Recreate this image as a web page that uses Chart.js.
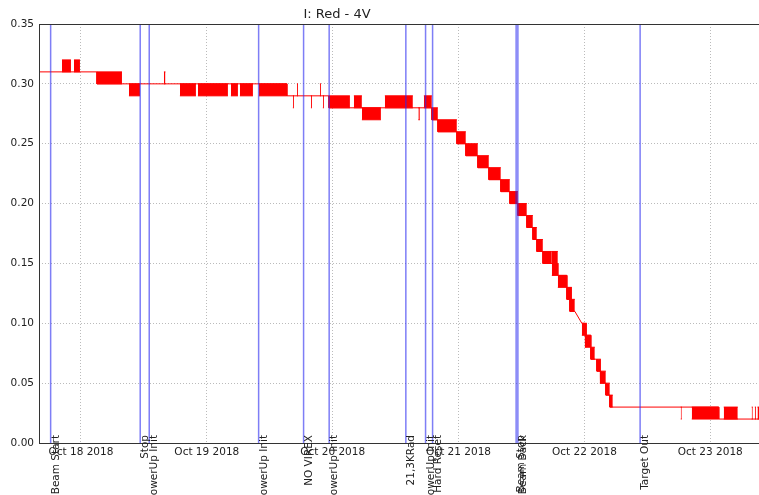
<!DOCTYPE html>
<html><head><meta charset="utf-8">
<script src="https://cdn.jsdelivr.net/npm/chart.js@4.4.0/dist/chart.umd.min.js"></script>
<style>
html,body{margin:0;padding:0;overflow:hidden;background:#fff;width:759px;height:495px}
#wrap{width:800px;height:495px;position:relative}
</style></head><body>
<div id="wrap"><canvas id="c" width="800" height="495"></canvas></div>
<script>
// ---- data (x in hours since Oct 18 2018 00:00) ----
const chartTitle = "I: Red - 4V";
const xMin = -8.0, xMax = 135.2;
const tickHours = [0, 24, 48, 72, 96, 120];
const tickLabels = ["Oct 18 2018", "Oct 19 2018", "Oct 20 2018", "Oct 21 2018", "Oct 22 2018", "Oct 23 2018"];
const yTicks = [0, 0.05, 0.10, 0.15, 0.20, 0.25, 0.30, 0.35];

// main (thin) current trace vertices
const baseHours  = [-8.0, 3.05, 3.05, 39.27, 39.27, 47.28, 47.28, 66.91, 66.91, 68.06, 68.06, 71.68, 71.68, 73.39, 73.39, 75.68, 75.68, 77.78, 77.78, 80.06, 80.06, 81.78, 81.78, 83.31, 83.31, 85.02, 85.02, 86.17, 86.17, 86.93, 86.93, 88.08, 88.08, 90.93, 90.93, 92.65, 92.65, 93.22, 93.22, 94.17, 95.51, 96.08, 96.08, 97.22, 97.22, 98.37, 98.37, 99.13, 99.13, 100.08, 100.08, 100.84, 100.84, 101.41, 101.41, 121.62, 121.62, 135.2];
const baseValues = [0.31, 0.31, 0.30, 0.30, 0.29, 0.29, 0.28, 0.28, 0.27, 0.27, 0.26, 0.26, 0.25, 0.25, 0.24, 0.24, 0.23, 0.23, 0.22, 0.22, 0.21, 0.21, 0.20, 0.20, 0.19, 0.19, 0.18, 0.18, 0.17, 0.17, 0.16, 0.16, 0.15, 0.15, 0.14, 0.14, 0.12, 0.12, 0.11, 0.11, 0.10, 0.10, 0.09, 0.09, 0.07, 0.07, 0.06, 0.06, 0.05, 0.05, 0.04, 0.04, 0.03, 0.03, 0.03, 0.03, 0.02, 0.02];

// flicker bands (signal toggling between two adjacent levels)
const bandStart = [-3.62, -1.33, 3.05, 9.15, 15.82, 18.87, 22.30, 28.59, 30.31, 33.93, 40.41, 41.18, 43.85, 45.56, 46.13, 47.28, 52.04, 53.57, 57.95, 64.34, 65.39, 66.91, 68.06, 71.68, 73.39, 75.68, 77.78, 80.06, 81.78, 83.31, 85.02, 86.17, 86.93, 88.08, 89.79, 90.93, 92.65, 93.22, 95.51, 96.08, 97.22, 98.37, 98.94, 100.08, 100.84, 114.37, 116.47, 122.57, 127.9, 128.5, 129.0];
const bandEnd   = [-1.91, -0.19, 7.82, 11.25, 16.11, 21.92, 28.02, 29.93, 32.79, 39.27, 40.60, 41.37, 44.04, 45.75, 46.32, 51.28, 53.57, 57.19, 63.29, 64.62, 66.91, 68.06, 71.68, 73.39, 75.68, 77.78, 80.06, 81.78, 83.31, 85.02, 86.17, 86.93, 88.08, 89.79, 90.93, 92.65, 93.60, 94.17, 96.46, 97.22, 97.98, 99.13, 100.08, 100.84, 101.41, 114.56, 121.62, 125.24, 128.1, 128.7, 129.4];
const bandLo    = [0.31, 0.31, 0.30, 0.29, 0.30, 0.29, 0.29, 0.29, 0.29, 0.29, 0.28, 0.29, 0.28, 0.29, 0.28, 0.28, 0.28, 0.27, 0.28, 0.27, 0.28, 0.27, 0.26, 0.25, 0.24, 0.23, 0.22, 0.21, 0.20, 0.19, 0.18, 0.17, 0.16, 0.15, 0.14, 0.13, 0.12, 0.11, 0.09, 0.08, 0.07, 0.06, 0.05, 0.04, 0.03, 0.02, 0.02, 0.02, 0.02, 0.02, 0.02];
const bandHi    = [0.32, 0.32, 0.31, 0.30, 0.31, 0.30, 0.30, 0.30, 0.30, 0.30, 0.29, 0.30, 0.29, 0.30, 0.29, 0.29, 0.29, 0.28, 0.29, 0.28, 0.29, 0.28, 0.27, 0.26, 0.25, 0.24, 0.23, 0.22, 0.21, 0.20, 0.19, 0.18, 0.17, 0.16, 0.16, 0.14, 0.13, 0.12, 0.10, 0.09, 0.08, 0.07, 0.06, 0.05, 0.04, 0.03, 0.03, 0.03, 0.03, 0.03, 0.03];

// event markers
const eventHours  = [-5.78, 11.30, 13.02, 33.88, 42.45, 47.33, 61.95, 65.71, 67.05, 82.98, 83.31, 106.62];
const eventLabels = ["Beam Start", "Stop", "PowerUp Init", "PowerUp Init", "NO VIREX", "PowerUp Init", "21,3KRad", "PowerUp Init", "Hard Reset", "Beam Stop", "Beam Back", "Target Out"];

// ---- build datasets ----
const baseData = baseHours.map((h, i) => ({x: h, y: baseValues[i]}));
const hiData = [], loData = [];
bandStart.forEach((s, i) => {
  hiData.push({x: s, y: bandHi[i]}, {x: bandEnd[i], y: bandHi[i]}, {x: bandEnd[i], y: null});
  loData.push({x: s, y: bandLo[i]}, {x: bandEnd[i], y: bandLo[i]}, {x: bandEnd[i], y: null});
});
const eventData = [];
eventHours.forEach(h => { eventData.push({x: h, y: 0}, {x: h, y: 0.35}, {x: h, y: null}); });

const FONT = "'DejaVu Sans', sans-serif";
Chart.defaults.font.family = FONT;
Chart.defaults.font.size = 10.5;
Chart.defaults.color = '#222';

const framePlugin = {
  id: 'frame',
  afterDraw(chart) {
    const {ctx, chartArea: a} = chart;
    ctx.save();
    ctx.strokeStyle = '#333';
    ctx.lineWidth = 1;
    ctx.strokeRect(Math.round(a.left) + 0.5, Math.round(a.top) + 0.5, Math.round(a.right - a.left), Math.round(a.bottom - a.top));
    // title
    ctx.font = "13px " + FONT;
    ctx.fillStyle = '#222';
    ctx.textAlign = 'center';
    ctx.textBaseline = 'middle';
    ctx.fillText(chartTitle, 337, 15);
    // event labels
    const xs = chart.scales.x;
    ctx.font = "10.5px " + FONT;
    ctx.textAlign = 'right';
    ctx.textBaseline = 'top';
    eventHours.forEach((h, i) => {
      const px = xs.getPixelForValue(h);
      ctx.save();
      ctx.translate(px, 435);
      ctx.rotate(-Math.PI / 2);
      ctx.fillText(eventLabels[i], 0, 0);
      ctx.restore();
    });
    ctx.restore();
  }
};

new Chart(document.getElementById('c'), {
  type: 'line',
  data: {
    datasets: [
      {label: 'events', data: eventData, borderColor: 'rgba(40,40,240,0.6)', borderWidth: 1.5, pointRadius: 0, spanGaps: false, fill: false, order: 0},
      {label: 'I', data: baseData, borderColor: '#ff0000', borderWidth: 1, pointRadius: 0, fill: false, order: 1},
      {label: 'hi', data: hiData, borderColor: '#ff0000', borderWidth: 1, pointRadius: 0, spanGaps: false, fill: false, order: 2},
      {label: 'lo', data: loData, borderColor: '#ff0000', borderWidth: 1, pointRadius: 0, spanGaps: false, fill: '-1', backgroundColor: '#ff0000', order: 3}
    ]
  },
  options: {
    responsive: false,
    animation: false,
    parsing: true,
    layout: {padding: {left: 0, top: 24, right: 10, bottom: 0}},
    plugins: {legend: {display: false}, tooltip: {enabled: false}, title: {display: false}},
    scales: {
      x: {
        type: 'linear', min: xMin, max: xMax,
        afterBuildTicks: s => { s.ticks = tickHours.map(v => ({value: v})); },
        afterFit: s => { s.height = 52; },
        ticks: {autoSkip: false, maxRotation: 0, padding: 3, color: '#222',
          callback: v => tickLabels[tickHours.indexOf(v)] || ''},
        grid: {color: '#bbbbbb', lineWidth: 1, drawTicks: false},
        border: {display: false, dash: [1, 2]}
      },
      y: {
        min: 0, max: 0.35,
        afterBuildTicks: s => { s.ticks = yTicks.map(v => ({value: v})); },
        afterFit: s => { s.width = 39; },
        ticks: {padding: 5, color: '#222', callback: v => Number(v).toFixed(2)},
        grid: {color: '#bbbbbb', lineWidth: 1, drawTicks: false},
        border: {display: false, dash: [1, 2]}
      }
    }
  },
  plugins: [framePlugin]
});
</script>
</body></html>
